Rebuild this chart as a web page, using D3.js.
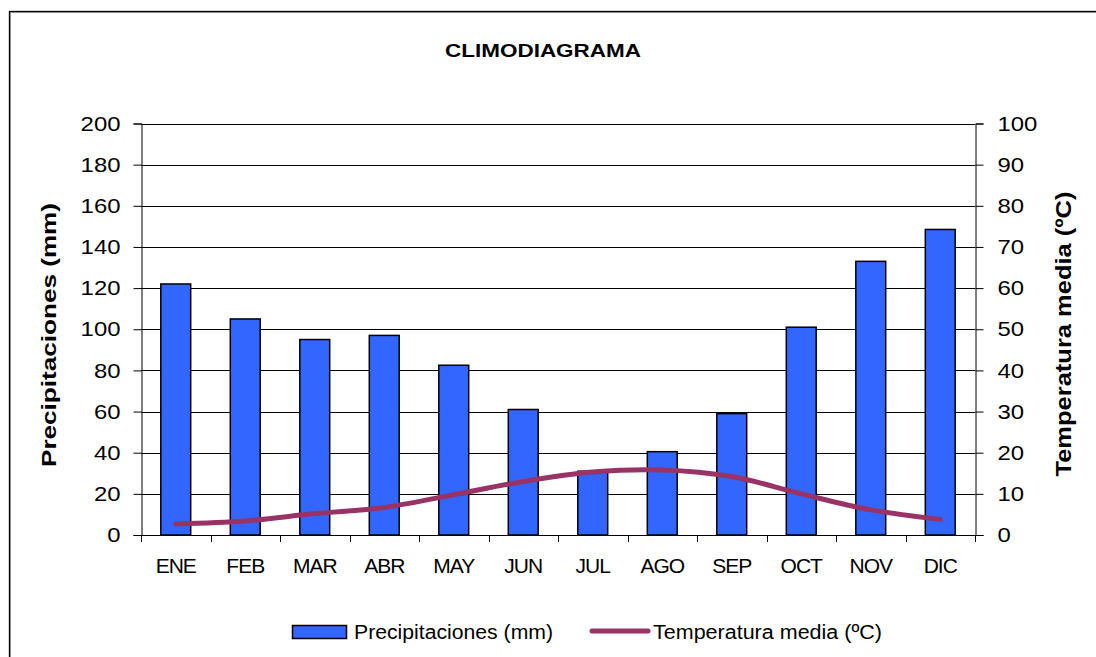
<!DOCTYPE html>
<html>
<head>
<meta charset="utf-8">
<script src="https://cdn.jsdelivr.net/npm/d3@7"></script>
<style>
  body { margin: 0; background: #fff; }
  text { font-family: "Liberation Sans", Arial, sans-serif; fill: #000; }
</style>
</head>
<body>
<div id="chart"></div>
<script>
// monthly data
var months = ["ENE", "FEB", "MAR", "ABR", "MAY", "JUN", "JUL", "AGO", "SEP", "OCT", "NOV", "DIC"];
var precip = [122, 105, 95, 97, 82.5, 61, 31, 40.5, 59, 101, 133, 148.5];
var temp = [2.7, 3.4, 5.2, 6.7, 9.8, 13, 15.3, 15.8, 14.2, 10, 6.1, 3.8];
var precipTicks = [0, 20, 40, 60, 80, 100, 120, 140, 160, 180, 200];
var tempTicks = [0, 10, 20, 30, 40, 50, 60, 70, 80, 90, 100];

var width = 1096, height = 657;
var plot = {left: 141, right: 975, top: 123.5, bottom: 535};
var font = "'Liberation Sans', Arial, sans-serif";

var svg = d3.select("#chart").append("svg")
  .attr("width", width).attr("height", height);

// outer frame (runs off the picture on the right and bottom)
svg.append("rect")
  .attr("x", 10.5).attr("y", 12.5).attr("width", 1200).attr("height", 800)
  .attr("fill", "none").attr("stroke", "#aaa").attr("stroke-width", 1);
svg.append("rect")
  .attr("x", 9.5).attr("y", 11.5).attr("width", 1200).attr("height", 800)
  .attr("fill", "none").attr("stroke", "#000").attr("stroke-width", 1.3);

var x = d3.scaleBand().domain(months).range([plot.left, plot.right]).padding(0);
var xEdge = d3.scaleLinear().domain([0, 12]).range([plot.left, plot.right]);
var yP = d3.scaleLinear().domain([0, 200]).range([plot.bottom, plot.top]);
var yT = d3.scaleLinear().domain([0, 100]).range([plot.bottom, plot.top]);

svg.append("text")
  .attr("x", 543).attr("y", 57)
  .attr("text-anchor", "middle")
  .attr("font-size", 19).attr("font-weight", "bold")
  .attr("textLength", 196).attr("lengthAdjust", "spacingAndGlyphs")
  .text("CLIMODIAGRAMA");

// gridlines
svg.append("g")
  .selectAll("line")
  .data(precipTicks.slice(1))
  .enter().append("line")
  .attr("x1", plot.left).attr("x2", plot.right)
  .attr("y1", function(d) { return Math.round(yP(d)) + 0.5; })
  .attr("y2", function(d) { return Math.round(yP(d)) + 0.5; })
  .attr("stroke", "#000").attr("stroke-width", 1);

// bars
var barW = x.bandwidth() * 0.43;
svg.append("g")
  .selectAll("rect")
  .data(precip)
  .enter().append("rect")
  .attr("x", function(d, i) { return x(months[i]) + (x.bandwidth() - barW) / 2; })
  .attr("y", function(d) { return yP(d); })
  .attr("width", barW)
  .attr("height", function(d) { return yP(0) - yP(d); })
  .attr("fill", "#3366ff")
  .attr("stroke", "#000").attr("stroke-width", 1.5);

// left axis
var leftAxis = svg.append("g")
  .attr("transform", "translate(" + (plot.left + 0.5) + ",0)")
  .call(d3.axisLeft(yP).tickValues(precipTicks).tickSize(8).tickPadding(13));
// right axis
var rightAxis = svg.append("g")
  .attr("transform", "translate(" + (plot.right + 0.5) + ",0)")
  .call(d3.axisRight(yT).tickValues(tempTicks).tickSize(8).tickPadding(14));
[leftAxis, rightAxis].forEach(function(g) {
  g.select(".domain").attr("stroke", "#000").attr("stroke-width", 1);
  g.selectAll(".tick line").attr("stroke", "#000");
  // the source renders digits a bit wide, so stretch them
  g.selectAll(".tick text").attr("font-size", 21)
    .style("font-family", font)
    .attr("textLength", function(d) { return String(d).length * 13.3; })
    .attr("lengthAdjust", "spacingAndGlyphs");
});

// bottom axis line and boundary ticks
svg.append("line")
  .attr("x1", plot.left).attr("x2", plot.right + 1)
  .attr("y1", plot.bottom + 0.5).attr("y2", plot.bottom + 0.5)
  .attr("stroke", "#000");
svg.append("g")
  .selectAll("line")
  .data(d3.range(13))
  .enter().append("line")
  .attr("x1", function(d) { return Math.round(xEdge(d)) + 0.5; })
  .attr("x2", function(d) { return Math.round(xEdge(d)) + 0.5; })
  .attr("y1", plot.bottom).attr("y2", plot.bottom + 7)
  .attr("stroke", "#000");

var bottomAxis = svg.append("g")
  .attr("transform", "translate(0," + plot.bottom + ")")
  .call(d3.axisBottom(x).tickSize(0).tickPadding(23));
bottomAxis.select(".domain").remove();
bottomAxis.selectAll(".tick text").attr("font-size", 21)
  .attr("letter-spacing", -1)
  .style("font-family", font);

// temperature line
var line = d3.line()
  .x(function(d, i) { return x(months[i]) + x.bandwidth() / 2; })
  .y(function(d) { return yT(d); })
  .curve(d3.curveCatmullRom.alpha(0.5));
svg.append("path")
  .datum(temp)
  .attr("d", line)
  .attr("fill", "none")
  .attr("stroke", "#993366")
  .attr("stroke-width", 5)
  .attr("stroke-linecap", "round");

// axis titles
svg.append("text")
  .attr("transform", "translate(56,335) rotate(-90)")
  .attr("text-anchor", "middle")
  .attr("font-size", 21).attr("font-weight", "bold")
  .attr("textLength", 264).attr("lengthAdjust", "spacingAndGlyphs")
  .text("Precipitaciones (mm)");
svg.append("text")
  .attr("transform", "translate(1071,334) rotate(-90)")
  .attr("text-anchor", "middle")
  .attr("font-size", 22).attr("font-weight", "bold")
  .attr("textLength", 285).attr("lengthAdjust", "spacingAndGlyphs")
  .text("Temperatura media (ºC)");

// legend
var legend = svg.append("g");
legend.append("rect")
  .attr("x", 292.5).attr("y", 625.5).attr("width", 54).attr("height", 13)
  .attr("fill", "#3366ff").attr("stroke", "#000").attr("stroke-width", 1.5);
legend.append("text")
  .attr("x", 354).attr("y", 639)
  .attr("font-size", 20)
  .attr("textLength", 199).attr("lengthAdjust", "spacingAndGlyphs")
  .text("Precipitaciones (mm)");
legend.append("line")
  .attr("x1", 592).attr("x2", 648).attr("y1", 631).attr("y2", 631)
  .attr("stroke", "#993366").attr("stroke-width", 5).attr("stroke-linecap", "round");
legend.append("text")
  .attr("x", 653).attr("y", 639)
  .attr("font-size", 20)
  .attr("textLength", 229).attr("lengthAdjust", "spacingAndGlyphs")
  .text("Temperatura media (ºC)");
</script>
</body>
</html>
